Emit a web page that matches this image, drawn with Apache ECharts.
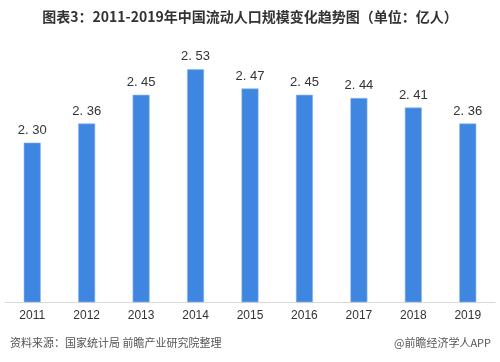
<!DOCTYPE html>
<html><head><meta charset="utf-8">
<script src="https://cdn.jsdelivr.net/npm/echarts@6/dist/echarts.min.js"></script>
<style>html,body{margin:0;padding:0;background:#fff}#c{width:500px;height:362px}</style>
</head><body><div id="c"></div>
<script>
const titleText = '图表3：2011-2019年中国流动人口规模变化趋势图（单位：亿人）';
const sourceText = '资料来源：国家统计局 前瞻产业研究院整理';
const creditText = '@前瞻经济学人APP';
const years = ['2011','2012','2013','2014','2015','2016','2017','2018','2019'];
const population = [2.30, 2.36, 2.45, 2.53, 2.47, 2.45, 2.44, 2.41, 2.36];

const chart = echarts.init(document.getElementById('c'), null, {renderer:'canvas'});
chart.setOption({
  animation:false,
  backgroundColor:'#fff',
  title:{text:titleText,left:'center',top:5,textStyle:{fontSize:14,fontWeight:'bold',color:'#333',fontFamily:'Noto Sans CJK SC'}},
  grid:{left:5,right:5,top:47,bottom:60},
  xAxis:{type:'category',data:years,
    axisLine:{lineStyle:{color:'#d9d9d9',width:1}},
    axisTick:{show:false},
    axisLabel:{color:'#333',fontSize:12,margin:8,fontFamily:'Arial'}},
  yAxis:{type:'value',min:1.8,max:2.6,show:false,splitLine:{show:false}},
  series:[{type:'bar',data:population,barWidth:17,
    itemStyle:{color:'#3f86e0',borderColor:'#8db8ef',borderWidth:0.6},
    label:{show:true,position:'top',distance:6,color:'#333',fontSize:13,fontFamily:'Arial',
      formatter:p=>p.value.toFixed(2).replace('.', '. ')}}],
  graphic:[
    {type:'text',left:10,top:337,style:{text:sourceText,fontSize:11,fill:'#555',fontFamily:'Noto Sans CJK SC',letterSpacing:1.2}},
    {type:'text',right:9,top:337,style:{text:creditText,fontSize:11,fill:'#555',fontFamily:'Noto Sans CJK SC'}}
  ]
});
</script></body></html>
